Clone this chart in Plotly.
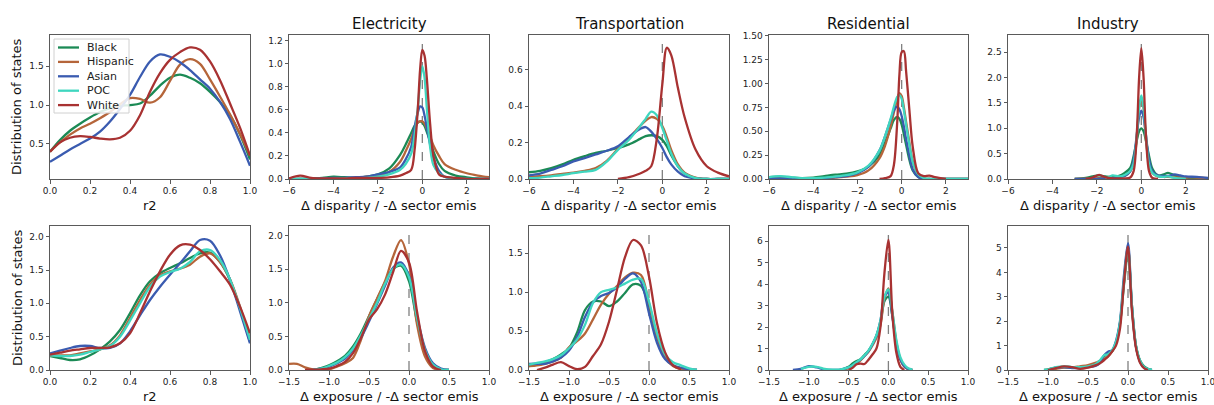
import plotly.graph_objects as go

GROUPS = ["Black", "Hispanic", "Asian", "POC", "White"]
COLORS = ["#1b8a55", "#b5653a", "#3a5bb0", "#3fd6bf", "#a83232"]
SECTORS = ["Electricity", "Transportation", "Residential", "Industry"]

# ---------------- Row 1 : disparity ----------------
R1_R2_X = [0.0, 0.05, 0.1, 0.15, 0.2, 0.25, 0.3, 0.35, 0.4, 0.45, 0.5, 0.55, 0.6, 0.65, 0.7, 0.75, 0.8, 0.85, 0.9, 0.95, 1.0]
R1_R2_BLACK = [0.40, 0.55, 0.67, 0.76, 0.84, 0.91, 0.96, 0.99, 1.00, 1.02, 1.12, 1.25, 1.35, 1.39, 1.35, 1.28, 1.17, 1.04, 0.87, 0.62, 0.30]
R1_R2_HISPANIC = [0.40, 0.52, 0.62, 0.70, 0.76, 0.83, 0.91, 1.01, 1.09, 1.08, 1.03, 1.10, 1.31, 1.52, 1.59, 1.53, 1.33, 1.11, 0.88, 0.63, 0.35]
R1_R2_ASIAN = [0.27, 0.35, 0.43, 0.50, 0.57, 0.66, 0.79, 0.95, 1.13, 1.36, 1.56, 1.65, 1.62, 1.55, 1.45, 1.33, 1.21, 1.04, 0.82, 0.53, 0.22]
R1_R2_POC = [None]
R1_R2_WHITE = [0.40, 0.52, 0.58, 0.60, 0.59, 0.57, 0.56, 0.58, 0.67, 0.87, 1.17, 1.41, 1.58, 1.68, 1.74, 1.71, 1.56, 1.32, 1.02, 0.71, 0.35]

R1_ELEC_X = [-6, -5.5, -5, -4.5, -4, -3.5, -3, -2.5, -2, -1.5, -1, -0.75, -0.5, -0.35, -0.2, -0.1, 0, 0.1, 0.2, 0.35, 0.5, 0.75, 1, 1.5, 2, 2.5, 3]
R1_ELEC_BLACK = [0.0, 0.0, 0.005, 0.01, 0.02, 0.015, 0.01, 0.02, 0.04, 0.09, 0.21, 0.30, 0.40, 0.46, 0.49, 0.50, 0.49, 0.46, 0.41, 0.33, 0.24, 0.13, 0.07, 0.03, 0.015, 0.005, 0.0]
R1_ELEC_HISPANIC = [0.0, 0.0, 0.0, 0.0, 0.005, 0.005, 0.01, 0.02, 0.03, 0.06, 0.15, 0.24, 0.35, 0.43, 0.49, 0.50, 0.50, 0.48, 0.44, 0.37, 0.29, 0.20, 0.13, 0.08, 0.05, 0.03, 0.015]
R1_ELEC_ASIAN = [0.0, 0.0, 0.0, 0.005, 0.01, 0.01, 0.015, 0.02, 0.04, 0.06, 0.10, 0.17, 0.28, 0.45, 0.58, 0.63, 0.62, 0.55, 0.45, 0.30, 0.19, 0.07, 0.02, 0.005, 0.0, 0.0, 0.0]
R1_ELEC_POC = [0.0, 0.0, 0.0, 0.0, 0.0, 0.005, 0.005, 0.01, 0.02, 0.04, 0.08, 0.13, 0.22, 0.38, 0.62, 0.85, 0.98, 0.88, 0.62, 0.28, 0.12, 0.05, 0.02, 0.005, 0.0, 0.0, 0.0]
R1_ELEC_WHITE = [0.005, 0.03, 0.01, 0.005, 0.005, 0.005, 0.01, 0.01, 0.01, 0.015, 0.03, 0.05, 0.08, 0.25, 0.62, 0.95, 1.12, 1.07, 0.88, 0.48, 0.20, 0.04, 0.02, 0.01, 0.0, 0.0, 0.0]

R1_TRAN_X = [-6, -5.5, -5, -4.5, -4, -3.5, -3, -2.5, -2, -1.5, -1, -0.75, -0.5, -0.25, 0, 0.2, 0.4, 0.7, 1, 1.5, 2, 2.5, 3]
R1_TRAN_BLACK = [0.037, 0.045, 0.06, 0.08, 0.105, 0.125, 0.143, 0.155, 0.17, 0.19, 0.22, 0.235, 0.24, 0.235, 0.215, 0.18, 0.13, 0.07, 0.03, 0.005, 0.0, 0.0, 0.0]
R1_TRAN_HISPANIC = [0.012, 0.015, 0.02, 0.028, 0.035, 0.045, 0.06, 0.10, 0.165, 0.225, 0.29, 0.32, 0.34, 0.33, 0.29, 0.23, 0.16, 0.08, 0.035, 0.008, 0.0, 0.0, 0.0]
R1_TRAN_ASIAN = [0.02, 0.03, 0.05, 0.07, 0.097, 0.115, 0.135, 0.155, 0.18, 0.23, 0.275, 0.285, 0.26, 0.22, 0.17, 0.12, 0.08, 0.04, 0.015, 0.003, 0.0, 0.0, 0.0]
R1_TRAN_POC = [0.005, 0.008, 0.015, 0.022, 0.032, 0.04, 0.05, 0.095, 0.16, 0.215, 0.29, 0.33, 0.37, 0.35, 0.28, 0.21, 0.14, 0.07, 0.03, 0.005, 0.0, 0.0, 0.0]
R1_TRAN_WHITE = [None, None, None, None, None, None, None, None, 0.0, 0.01, 0.03, 0.045, 0.07, 0.22, 0.52, 0.72, 0.68, 0.50, 0.34, 0.16, 0.07, 0.035, 0.015]

R1_RES_X = [-6, -5.5, -5, -4.5, -4, -3.5, -3, -2.5, -2, -1.5, -1, -0.75, -0.5, -0.35, -0.2, -0.1, 0, 0.1, 0.2, 0.35, 0.5, 0.75, 1, 1.25, 1.5, 2, 2.5, 3]
R1_RES_BLACK = [0.02, 0.025, 0.015, 0.01, 0.015, 0.03, 0.045, 0.055, 0.08, 0.13, 0.25, 0.38, 0.53, 0.62, 0.65, 0.63, 0.57, 0.47, 0.36, 0.20, 0.09, 0.02, 0.005, 0.0, 0.0, 0.0, 0.0, 0.0]
R1_RES_HISPANIC = [0.005, 0.005, 0.005, 0.005, 0.008, 0.01, 0.015, 0.025, 0.04, 0.09, 0.22, 0.35, 0.55, 0.70, 0.84, 0.90, 0.87, 0.75, 0.60, 0.38, 0.18, 0.04, 0.005, 0.0, 0.0, 0.0, 0.0, 0.0]
R1_RES_ASIAN = [0.005, 0.005, 0.005, 0.005, 0.008, 0.01, 0.02, 0.03, 0.06, 0.13, 0.30, 0.45, 0.62, 0.72, 0.76, 0.73, 0.66, 0.55, 0.42, 0.24, 0.10, 0.02, 0.0, 0.0, 0.0, 0.0, 0.0, 0.0]
R1_RES_POC = [0.02, 0.03, 0.02, 0.01, 0.01, 0.015, 0.025, 0.04, 0.07, 0.14, 0.30, 0.45, 0.63, 0.76, 0.86, 0.88, 0.84, 0.72, 0.57, 0.36, 0.18, 0.05, 0.01, 0.0, 0.0, 0.0, 0.0, 0.0]
R1_RES_WHITE = [None, None, None, None, None, None, None, None, None, None, 0.0, 0.01, 0.03, 0.15, 0.60, 1.10, 1.33, 1.34, 1.13, 0.72, 0.34, 0.06, 0.03, 0.035, 0.02, 0.0, None, None]

R1_IND_X = [-3, -2.5, -2.2, -1.9, -1.6, -1.3, -1, -0.75, -0.5, -0.35, -0.2, -0.1, 0, 0.1, 0.2, 0.35, 0.5, 0.75, 1, 1.2, 1.5, 1.75, 2, 2.5, 3]
R1_IND_BLACK = [0.0, 0.02, 0.05, 0.07, 0.05, 0.04, 0.06, 0.12, 0.22, 0.45, 0.77, 0.94, 1.0, 0.94, 0.77, 0.45, 0.20, 0.07, 0.09, 0.12, 0.07, 0.04, 0.03, 0.02, 0.01]
R1_IND_HISPANIC = [0.0, 0.005, 0.01, 0.015, 0.015, 0.02, 0.03, 0.06, 0.15, 0.32, 0.80, 1.40, 1.58, 1.40, 0.80, 0.30, 0.12, 0.05, 0.04, 0.04, 0.03, 0.03, 0.03, 0.03, 0.015]
R1_IND_ASIAN = [0.0, 0.0, 0.0, 0.005, 0.01, 0.02, 0.03, 0.06, 0.15, 0.38, 0.89, 1.22, 1.35, 1.22, 0.89, 0.38, 0.15, 0.07, 0.06, 0.06, 0.09, 0.07, 0.05, 0.04, 0.02]
R1_IND_POC = [None, None, None, None, 0.0, 0.07, 0.05, 0.08, 0.16, 0.30, 0.89, 1.41, 1.65, 1.41, 0.89, 0.28, 0.12, 0.05, 0.04, 0.05, 0.02, 0.01, 0.0, None, None]
R1_IND_WHITE = [None, 0.0, 0.03, 0.08, 0.03, 0.01, 0.01, 0.01, 0.03, 0.15, 0.93, 2.0, 2.58, 2.0, 0.93, 0.15, 0.02, 0.0, None, None, None, None, None, None, None]

# ---------------- Row 2 : exposure ----------------
R2_R2_X = [0.0, 0.05, 0.1, 0.15, 0.2, 0.25, 0.3, 0.35, 0.4, 0.45, 0.5, 0.55, 0.6, 0.65, 0.7, 0.75, 0.8, 0.85, 0.9, 0.95, 1.0]
R2_R2_BLACK = [0.21, 0.18, 0.15, 0.16, 0.22, 0.31, 0.43, 0.60, 0.85, 1.12, 1.33, 1.45, 1.53, 1.60, 1.68, 1.75, 1.76, 1.62, 1.35, 0.92, 0.42]
R2_R2_HISPANIC = [0.22, 0.22, 0.22, 0.25, 0.28, 0.31, 0.37, 0.52, 0.78, 1.05, 1.28, 1.42, 1.48, 1.52, 1.58, 1.70, 1.75, 1.62, 1.36, 0.95, 0.45]
R2_R2_ASIAN = [0.25, 0.29, 0.33, 0.36, 0.36, 0.33, 0.33, 0.40, 0.58, 0.82, 1.05, 1.25, 1.43, 1.60, 1.78, 1.95, 1.94, 1.72, 1.35, 0.88, 0.40]
R2_R2_POC = [0.22, 0.21, 0.21, 0.23, 0.27, 0.31, 0.36, 0.50, 0.74, 1.00, 1.25, 1.40, 1.47, 1.52, 1.62, 1.78, 1.80, 1.65, 1.36, 0.93, 0.45]
R2_R2_WHITE = [0.23, 0.26, 0.29, 0.31, 0.33, 0.33, 0.34, 0.40, 0.55, 0.85, 1.18, 1.48, 1.73, 1.87, 1.88, 1.80, 1.66, 1.48, 1.28, 0.95, 0.55]

R2_ELEC_X = [-1.5, -1.4, -1.3, -1.2, -1.1, -1.0, -0.9, -0.8, -0.7, -0.6, -0.5, -0.4, -0.3, -0.2, -0.1, 0.0, 0.1, 0.2, 0.3, 0.4, 0.5]
R2_ELEC_BLACK = [None, None, None, 0.0, 0.03, 0.07, 0.13, 0.21, 0.35, 0.55, 0.80, 1.05, 1.30, 1.50, 1.55, 1.32, 0.72, 0.28, 0.07, 0.01, 0.0]
R2_ELEC_HISPANIC = [0.09, 0.09, 0.04, 0.01, 0.01, 0.01, 0.05, 0.10, 0.18, 0.45, 0.80, 1.06, 1.32, 1.68, 1.93, 1.58, 0.68, 0.20, 0.03, 0.0, 0.0]
R2_ELEC_ASIAN = [None, None, None, 0.0, 0.02, 0.05, 0.10, 0.17, 0.30, 0.48, 0.72, 0.98, 1.25, 1.52, 1.60, 1.40, 0.80, 0.33, 0.10, 0.02, 0.0]
R2_ELEC_POC = [None, None, None, 0.0, 0.02, 0.06, 0.11, 0.19, 0.32, 0.52, 0.76, 1.00, 1.28, 1.50, 1.57, 1.38, 0.78, 0.30, 0.08, 0.01, 0.0]
R2_ELEC_WHITE = [None, None, 0.0, 0.005, 0.01, 0.02, 0.06, 0.12, 0.25, 0.48, 0.75, 0.90, 1.12, 1.45, 1.77, 1.60, 0.87, 0.28, 0.05, 0.0, None]

R2_TRAN_X = [-1.5, -1.4, -1.3, -1.2, -1.1, -1.0, -0.9, -0.8, -0.7, -0.6, -0.5, -0.4, -0.3, -0.2, -0.1, 0.0, 0.1, 0.2, 0.3, 0.4, 0.5, 0.6]
R2_TRAN_BLACK = [0.05, 0.07, 0.10, 0.14, 0.20, 0.28, 0.48, 0.77, 0.88, 0.88, 0.82, 0.88, 0.99, 1.10, 1.08, 0.82, 0.43, 0.18, 0.06, 0.02, 0.0, 0.0]
R2_TRAN_HISPANIC = [0.05, 0.06, 0.08, 0.11, 0.16, 0.29, 0.37, 0.47, 0.65, 0.84, 0.98, 1.08, 1.19, 1.25, 1.22, 0.86, 0.43, 0.16, 0.05, 0.01, 0.0, 0.0]
R2_TRAN_ASIAN = [0.077, 0.08, 0.08, 0.11, 0.16, 0.25, 0.42, 0.68, 0.87, 0.95, 0.99, 1.06, 1.17, 1.24, 1.13, 0.73, 0.35, 0.14, 0.06, 0.03, 0.01, 0.0]
R2_TRAN_POC = [0.07, 0.09, 0.11, 0.14, 0.19, 0.28, 0.39, 0.58, 0.86, 1.00, 1.03, 1.06, 1.11, 1.16, 1.17, 0.88, 0.47, 0.20, 0.10, 0.06, 0.02, 0.0]
R2_TRAN_WHITE = [None, 0.0, 0.03, 0.07, 0.10, 0.05, 0.01, 0.04, 0.18, 0.33, 0.62, 1.03, 1.45, 1.67, 1.60, 1.20, 0.60, 0.23, 0.06, 0.01, None, None]

R2_RES_X = [-1.2, -1.1, -1.0, -0.9, -0.8, -0.7, -0.6, -0.5, -0.45, -0.4, -0.35, -0.3, -0.25, -0.2, -0.15, -0.1, -0.05, 0.0, 0.05, 0.1, 0.15, 0.2, 0.25, 0.3]
R2_RES_BLACK = [None, None, None, None, None, None, 0.0, 0.15, 0.30, 0.42, 0.50, 0.70, 0.90, 1.20, 1.60, 2.20, 3.20, 3.40, 2.50, 1.20, 0.50, 0.20, 0.05, 0.0]
R2_RES_HISPANIC = [None, None, None, None, None, None, 0.0, 0.08, 0.15, 0.30, 0.45, 0.65, 0.85, 1.15, 1.50, 2.10, 3.30, 3.80, 2.70, 1.30, 0.50, 0.15, 0.03, 0.0]
R2_RES_ASIAN = [0.0, 0.05, 0.18, 0.12, 0.02, 0.01, 0.02, 0.12, 0.22, 0.35, 0.48, 0.65, 0.88, 1.20, 1.60, 2.30, 3.40, 3.60, 2.50, 1.20, 0.50, 0.18, 0.05, 0.0]
R2_RES_POC = [None, 0.05, 0.15, 0.15, 0.05, 0.02, 0.03, 0.12, 0.22, 0.37, 0.50, 0.68, 0.90, 1.22, 1.62, 2.30, 3.40, 3.75, 2.70, 1.40, 0.60, 0.25, 0.08, 0.02]
R2_RES_WHITE = [None, None, None, None, None, None, None, 0.0, 0.10, 0.27, 0.30, 0.28, 0.48, 0.72, 1.00, 2.00, 4.50, 6.05, 2.60, 0.80, 0.15, 0.0, None, None]

R2_IND_X = [-1.05, -1.0, -0.9, -0.8, -0.7, -0.6, -0.5, -0.4, -0.35, -0.3, -0.25, -0.2, -0.15, -0.1, -0.05, 0.0, 0.05, 0.1, 0.15, 0.2, 0.25, 0.3]
R2_IND_BLACK = [0.0, 0.03, 0.10, 0.12, 0.12, 0.10, 0.15, 0.25, 0.35, 0.55, 0.70, 0.75, 1.10, 1.90, 3.50, 4.80, 2.60, 1.00, 0.40, 0.15, 0.05, 0.0]
R2_IND_HISPANIC = [None, 0.0, 0.05, 0.10, 0.10, 0.15, 0.20, 0.30, 0.38, 0.45, 0.55, 0.75, 1.10, 1.90, 3.60, 4.95, 2.50, 0.95, 0.35, 0.10, 0.02, 0.0]
R2_IND_ASIAN = [None, 0.0, 0.10, 0.12, 0.08, 0.08, 0.12, 0.18, 0.30, 0.60, 0.75, 0.80, 1.20, 2.00, 3.90, 5.20, 2.60, 0.95, 0.35, 0.10, 0.02, 0.0]
R2_IND_POC = [0.0, 0.02, 0.12, 0.15, 0.12, 0.12, 0.15, 0.25, 0.40, 0.60, 0.65, 0.80, 1.15, 1.95, 3.70, 5.00, 2.60, 1.00, 0.38, 0.12, 0.04, 0.01]
R2_IND_WHITE = [None, 0.0, 0.08, 0.15, 0.12, 0.05, 0.10, 0.20, 0.28, 0.40, 0.55, 0.75, 1.00, 1.70, 3.60, 5.05, 2.40, 0.90, 0.30, 0.08, 0.0, None]

# tick labels
R2_TICKS = [0.0, 0.2, 0.4, 0.6, 0.8, 1.0]
DISP_TICKS = [-6, -4, -2, 0, 2]
EXPO_TICKS = [-1.5, -1.0, -0.5, 0.0, 0.5, 1.0]

PANELS = [
    # row 1
    dict(x=R1_R2_X, ys=[R1_R2_BLACK, R1_R2_HISPANIC, R1_R2_ASIAN, R1_R2_POC, R1_R2_WHITE],
         xr=[0, 1], yr=[0.05, 1.9], xt=R2_TICKS, xf=".1f", yt=[0.5, 1.0, 1.5], yf=".1f", ref=False),
    dict(x=R1_ELEC_X, ys=[R1_ELEC_BLACK, R1_ELEC_HISPANIC, R1_ELEC_ASIAN, R1_ELEC_POC, R1_ELEC_WHITE],
         xr=[-6, 3], yr=[0, 1.25], xt=DISP_TICKS, xf="d", yt=[0, 0.2, 0.4, 0.6, 0.8, 1.0, 1.2], yf=".1f", ref=True),
    dict(x=R1_TRAN_X, ys=[R1_TRAN_BLACK, R1_TRAN_HISPANIC, R1_TRAN_ASIAN, R1_TRAN_POC, R1_TRAN_WHITE],
         xr=[-6, 3], yr=[0, 0.79], xt=DISP_TICKS, xf="d", yt=[0, 0.2, 0.4, 0.6], yf=".1f", ref=True),
    dict(x=R1_RES_X, ys=[R1_RES_BLACK, R1_RES_HISPANIC, R1_RES_ASIAN, R1_RES_POC, R1_RES_WHITE],
         xr=[-6, 3], yr=[0, 1.51], xt=DISP_TICKS, xf="d", yt=[0, 0.25, 0.5, 0.75, 1.0, 1.25, 1.5], yf=".2f", ref=True),
    dict(x=R1_IND_X, ys=[R1_IND_BLACK, R1_IND_HISPANIC, R1_IND_ASIAN, R1_IND_POC, R1_IND_WHITE],
         xr=[-6, 3], yr=[0, 2.84], xt=DISP_TICKS, xf="d", yt=[0, 0.5, 1.0, 1.5, 2.0, 2.5], yf=".1f", ref=True),
    # row 2
    dict(x=R2_R2_X, ys=[R2_R2_BLACK, R2_R2_HISPANIC, R2_R2_ASIAN, R2_R2_POC, R2_R2_WHITE],
         xr=[0, 1], yr=[0, 2.16], xt=R2_TICKS, xf=".1f", yt=[0, 0.5, 1.0, 1.5, 2.0], yf=".1f", ref=False),
    dict(x=R2_ELEC_X, ys=[R2_ELEC_BLACK, R2_ELEC_HISPANIC, R2_ELEC_ASIAN, R2_ELEC_POC, R2_ELEC_WHITE],
         xr=[-1.5, 1.0], yr=[0, 2.14], xt=EXPO_TICKS, xf=".1f", yt=[0, 0.5, 1.0, 1.5, 2.0], yf=".1f", ref=True),
    dict(x=R2_TRAN_X, ys=[R2_TRAN_BLACK, R2_TRAN_HISPANIC, R2_TRAN_ASIAN, R2_TRAN_POC, R2_TRAN_WHITE],
         xr=[-1.5, 1.0], yr=[0, 1.85], xt=EXPO_TICKS, xf=".1f", yt=[0, 0.5, 1.0, 1.5], yf=".1f", ref=True),
    dict(x=R2_RES_X, ys=[R2_RES_BLACK, R2_RES_HISPANIC, R2_RES_ASIAN, R2_RES_POC, R2_RES_WHITE],
         xr=[-1.5, 1.0], yr=[0, 6.7], xt=EXPO_TICKS, xf=".1f", yt=[0, 1, 2, 3, 4, 5, 6], yf="d", ref=True),
    dict(x=R2_IND_X, ys=[R2_IND_BLACK, R2_IND_HISPANIC, R2_IND_ASIAN, R2_IND_POC, R2_IND_WHITE],
         xr=[-1.5, 1.0], yr=[0, 5.9], xt=EXPO_TICKS, xf=".1f", yt=[0, 1, 2, 3, 4, 5], yf="d", ref=True),
]

# ---------------- layout geometry (pixels) ----------------
W, H = 1214, 405
XPX = [(50, 250), (289, 489), (529, 729), (769, 968), (1008, 1208)]
YPX = [(35, 179), (226, 370)]
FONT = "DejaVu Sans, Liberation Sans, sans-serif"
SPINE = "#5a5a5a"

fig = go.Figure()
layout = dict(
    width=W, height=H, margin=dict(l=0, r=0, t=0, b=0, pad=0, autoexpand=False),
    paper_bgcolor="white", plot_bgcolor="white",
    font=dict(family=FONT, size=9, color="#222"),
    showlegend=False,
)
shapes = []
annotations = []

for i, p in enumerate(PANELS):
    row, col = divmod(i, 5)
    k = i + 1
    xs = "" if k == 1 else str(k)
    x0, x1 = XPX[col]
    y0, y1 = YPX[row]
    layout["xaxis" + xs] = dict(
        domain=[x0 / W, x1 / W], anchor="y" + xs, range=p["xr"],
        tickvals=p["xt"], tickformat=p["xf"], showgrid=False, zeroline=False,
        showline=True, linecolor=SPINE, linewidth=1, mirror=True, automargin=False,
        ticklabeloverflow="allow",
        ticks="outside", ticklen=3.5, tickcolor=SPINE, tickfont=dict(size=9, color="#222"))
    layout["yaxis" + xs] = dict(
        domain=[1 - y1 / H, 1 - y0 / H], anchor="x" + xs, range=p["yr"],
        tickvals=p["yt"], tickformat=p["yf"], showgrid=False, zeroline=False,
        showline=True, linecolor=SPINE, linewidth=1, mirror=True, automargin=False,
        ticks="outside", ticklen=3.5, tickcolor=SPINE, tickfont=dict(size=9, color="#222"))

    for g, (name, color, yv) in enumerate(zip(GROUPS, COLORS, p["ys"])):
        xv = p["x"] if len(yv) == len(p["x"]) else [None]
        fig.add_trace(go.Scatter(
            x=xv, y=yv, mode="lines", name=name,
            xaxis="x" + xs, yaxis="y" + xs,
            line=dict(color=color, width=2.3, shape="spline", smoothing=0.9),
            hoverinfo="skip"))

    if p["ref"]:
        shapes.append(dict(type="line", xref="x" + xs, yref="y" + xs, x0=0, x1=0,
                           y0=0, y1=p["yr"][1] / 1.05, layer="below",
                           line=dict(color="#808080", width=1.3, dash="dash")))

    # x-axis label
    xlabel = "r2" if col == 0 else ("Δ disparity / -Δ sector emis" if row == 0 else "Δ exposure / -Δ sector emis")
    annotations.append(dict(text=xlabel, xref="paper", yref="paper",
                            x=(x0 + x1) / 2 / W, y=1 - (y1 + 26) / H,
                            xanchor="center", yanchor="middle", showarrow=False,
                            font=dict(size=13, color="#111")))
    if col == 0:
        annotations.append(dict(text="Distribution of states", xref="paper", yref="paper",
                                x=17 / W, y=1 - (y0 + y1) / 2 / H, textangle=-90,
                                xanchor="center", yanchor="middle", showarrow=False,
                                font=dict(size=13, color="#111")))
    if row == 0 and col > 0:
        annotations.append(dict(text=SECTORS[col - 1], xref="paper", yref="paper",
                                x=(x0 + x1) / 2 / W, y=1 - 24 / H,
                                xanchor="center", yanchor="middle", showarrow=False,
                                font=dict(size=15, color="#111")))

# ---------------- legend (drawn in top-left panel, matplotlib-like) ----------------
LEG_L, LEG_T, LEG_R, LEG_B = 54, 39, 129, 113
shapes.append(dict(type="rect", xref="paper", yref="paper",
                   x0=LEG_L / W, x1=LEG_R / W, y0=1 - LEG_B / H, y1=1 - LEG_T / H,
                   line=dict(color="#d0d0d0", width=1), fillcolor="rgba(255,255,255,0.85)",
                   layer="above"))
for g, (name, color) in enumerate(zip(GROUPS, COLORS)):
    yc = 47.5 + g * 14.4
    shapes.append(dict(type="line", xref="paper", yref="paper",
                       x0=58 / W, x1=79 / W, y0=1 - yc / H, y1=1 - yc / H,
                       line=dict(color=color, width=2.3), layer="above"))
    annotations.append(dict(text=name, xref="paper", yref="paper",
                            x=85 / W, y=1 - yc / H, xanchor="left", yanchor="middle",
                            showarrow=False, font=dict(size=11, color="#222")))

layout["shapes"] = shapes
layout["annotations"] = annotations
fig.update_layout(**layout)
fig.write_html(
    "out.html",
    config={"displayModeBar": False, "staticPlot": True},
    post_script="document.body.style.margin='0';document.body.style.padding='0';"
                "document.documentElement.style.overflow='hidden';",
)
